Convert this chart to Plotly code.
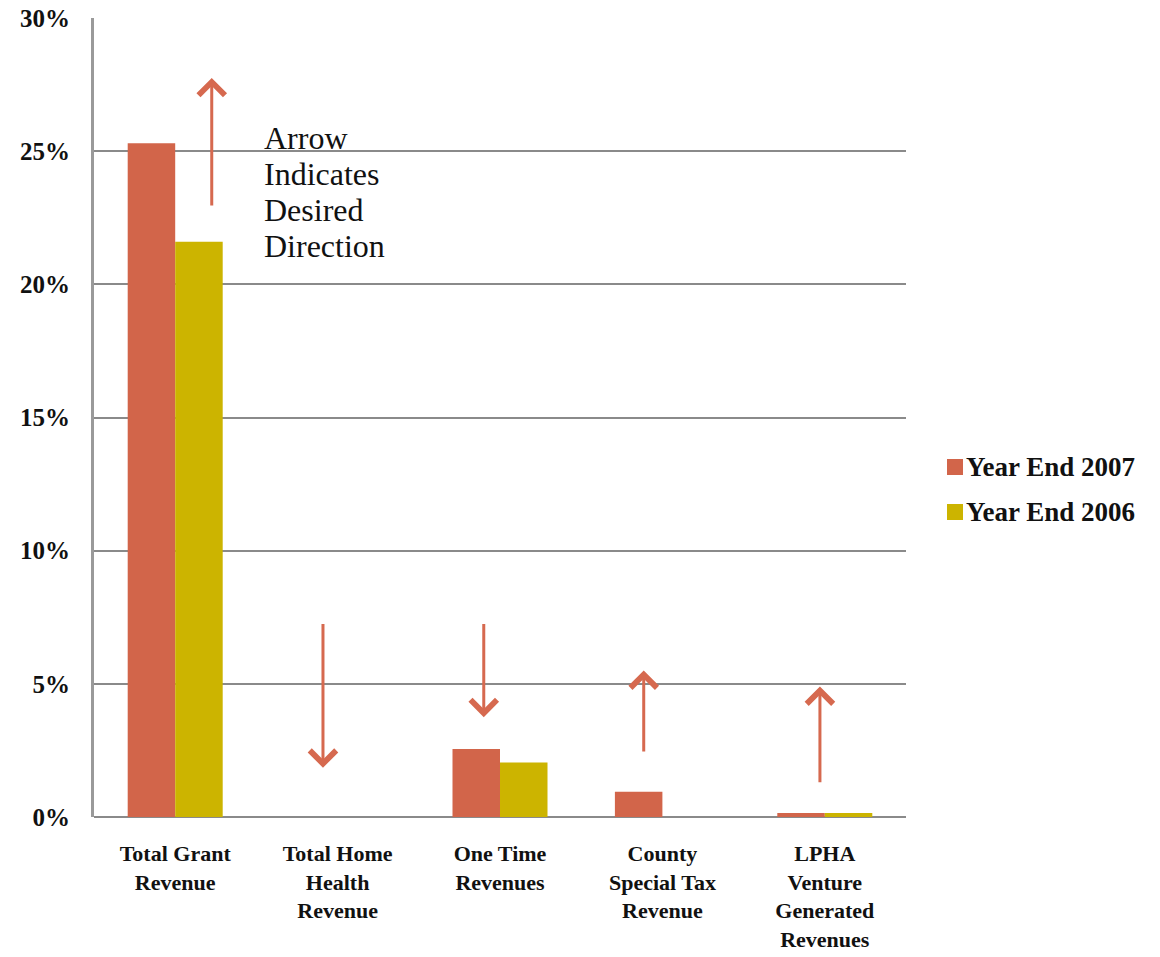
import plotly.graph_objects as go

# Revenue categories and share of total revenue (%)
categories = [
    "Total Grant<br>Revenue",
    "Total Home<br>Health<br>Revenue",
    "One Time<br>Revenues",
    "County<br>Special Tax<br>Revenue",
    "LPHA<br>Venture<br>Generated<br>Revenues",
]
year_end_2007 = [25.3, 0.0, 2.55, 0.95, 0.15]
year_end_2006 = [21.6, 0.0, 2.05, 0.0, 0.15]
series_names = ["Year End 2007", "Year End 2006"]

# Desired-direction arrows: offset from category centre, tail value, head value (%)
arrow_offset = [0.225, -0.09, -0.10, -0.115, -0.03]
arrow_from = [22.9, 7.3, 7.3, 2.4, 1.25]
arrow_to = [27.75, 1.85, 3.75, 5.5, 4.9]

note_lines = ["Arrow", "Indicates", "Desired", "Direction"]

y_ticks = [0, 5, 10, 15, 20, 25, 30]
y_tick_text = [f"{v}%" for v in y_ticks]

c2007 = "#D2654A"
c2006 = "#CCB400"
arrow_color = "#D6694F"
grid_color = "#8A8A8A"
text_color = "#111111"
font_family = "Liberation Serif"

# plot area in pixels
W, H = 1160, 957
L, R, T, B = 94, 906, 18, 817


def px_x(px):
    return (px - L) / (R - L)


def px_y(py):
    return (B - py) / (B - T)


fig = go.Figure()
for name, vals, col in zip(series_names, [year_end_2007, year_end_2006], [c2007, c2006]):
    fig.add_trace(go.Bar(x=categories, y=vals, name=name,
                         marker=dict(color=col, line=dict(width=0)), showlegend=False))

for i, (off, y0, y1) in enumerate(zip(arrow_offset, arrow_from, arrow_to)):
    fig.add_annotation(
        x=i + off, y=y1, ax=i + off, ay=y0,
        xref="x", yref="y", axref="x", ayref="y",
        text="", showarrow=True,
        arrowhead=4, arrowsize=1.7, arrowwidth=3, arrowcolor=arrow_color,
    )

# note next to the first arrow, one line per annotation for tight leading
for k, line in enumerate(note_lines):
    fig.add_annotation(
        x=px_x(262), y=px_y(138 + 36 * k), xref="paper", yref="paper",
        xanchor="left", yanchor="middle", text=line, showarrow=False,
        font=dict(family=font_family, size=32, color=text_color),
    )

# legend: square swatch + label
for k, (name, col) in enumerate(zip(series_names, [c2007, c2006])):
    cy = 467 + 45 * k
    fig.add_shape(type="rect", xref="paper", yref="paper",
                  x0=px_x(947), x1=px_x(963), y0=px_y(cy + 8), y1=px_y(cy - 8),
                  fillcolor=col, line=dict(width=0))
    fig.add_annotation(
        x=px_x(964), y=px_y(cy), xref="paper", yref="paper",
        xanchor="left", yanchor="middle", text=name, showarrow=False,
        font=dict(family=font_family, size=27, color=text_color, weight="bold"),
    )

fig.update_layout(
    width=W, height=H,
    margin=dict(l=L, r=W - R, t=T, b=H - B),
    paper_bgcolor="white", plot_bgcolor="white",
    barmode="group", bargap=0.415, bargroupgap=0,
    font=dict(family=font_family, color=text_color),
    showlegend=False,
    xaxis=dict(
        range=[-0.5, 4.5], showgrid=False, showline=False, zeroline=False,
        automargin=False, ticks="",
        tickfont=dict(family=font_family, size=22, color=text_color, weight="bold"),
        ticklabelstandoff=21,
    ),
    yaxis=dict(
        range=[0, 30], tickvals=y_ticks, ticktext=y_tick_text,
        showgrid=True, gridcolor=grid_color, gridwidth=2,
        zeroline=True, zerolinecolor=grid_color, zerolinewidth=2,
        showline=True, linecolor="#9A9A9A", linewidth=3,
        automargin=False, ticks="", ticklabelstandoff=16,
        tickfont=dict(family=font_family, size=25, color=text_color, weight="bold"),
    ),
)

fig.write_html("out.html")
